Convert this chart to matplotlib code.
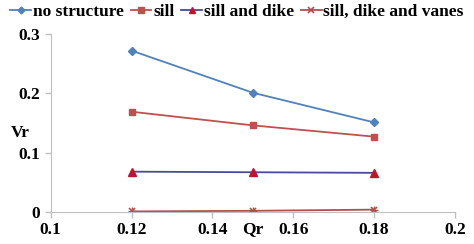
import matplotlib
matplotlib.use("Agg")
import matplotlib.pyplot as plt
from matplotlib.lines import Line2D

qr = [0.12, 0.15, 0.18]
no_structure = [0.272, 0.201, 0.151]
sill = [0.169, 0.146, 0.127]
sill_dike = [0.068, 0.067, 0.066]
sill_dike_vanes = [0.001, 0.002, 0.004]

plt.rcParams["font.family"] = ["Liberation Serif", "DejaVu Serif"]
plt.rcParams["font.weight"] = "bold"

fig = plt.figure(figsize=(4.74, 2.44), dpi=100)
ax = fig.add_axes([50.7 / 474, (244 - 212) / 244, (455 - 50.7) / 474, (212 - 34) / 244])

ax.plot(qr, no_structure, color="#4F81BD", marker="D", ms=4, lw=1.3)
ax.plot(qr, sill, color="#C0504D", marker="s", ms=4.5, lw=1.3)
ax.plot(qr, sill_dike, color="#4A4A9A", marker="^", ms=6, mfc="#C0142C", mec="#C0142C", lw=1.3)
ax.plot(qr, sill_dike_vanes, color="#B0504D", marker="x", ms=5, mew=1.2, lw=1.3)
ax.plot(qr, sill_dike_vanes, color="#B0504D", marker="+", ms=6, mew=1.0, lw=0)

ax.set_xlim(0.1, 0.2)
ax.set_ylim(0, 0.3)
ax.set_xticks([0.1, 0.12, 0.14, 0.16, 0.18, 0.2])
ax.set_xticklabels(["0.1", "0.12", "0.14", "0.16", "0.18", "0.2"])
ax.set_yticks([0, 0.1, 0.2, 0.3])
ax.set_yticklabels(["0", "0.1", "0.2", "0.3"])
for s in ["top", "right"]:
    ax.spines[s].set_visible(False)
for s in ["left", "bottom"]:
    ax.spines[s].set_color("#BFBFBF")
ax.tick_params(colors="#BFBFBF", labelcolor="black", labelsize=12.5, length=4, width=1)
for lab in ax.get_xticklabels() + ax.get_yticklabels():
    lab.set_fontweight("bold")

fig.text(20 / 474, 1 - 133 / 244, "Vr", fontsize=12.5, fontweight="bold", ha="center", va="center")
fig.text(253 / 474, 1 - 229 / 244, "Qr", fontsize=12.5, fontweight="bold", ha="center", va="center")

handles = [
    Line2D([], [], color="#4F81BD", marker="D", ms=3.5, lw=1.3),
    Line2D([], [], color="#C0504D", marker="s", ms=4, lw=1.3),
    Line2D([], [], color="#4A4A9A", marker="^", ms=5, mfc="#C0142C", mec="#C0142C", lw=1.3),
    Line2D([], [], color="#B0504D", marker="x", ms=4.5, mew=1.2, lw=1.3),
]
labels = ["no structure", "sill", "sill and dike", "sill, dike and vanes"]
fig.legend(handles, labels, loc="center", bbox_to_anchor=(0.5, 1 - 12 / 244), ncol=4,
           frameon=False, handlelength=1.2, handletextpad=0.1,
           columnspacing=0.4, borderpad=0, prop={"weight": "bold", "size": 12.5})

fig.savefig("out.png", dpi=100)
